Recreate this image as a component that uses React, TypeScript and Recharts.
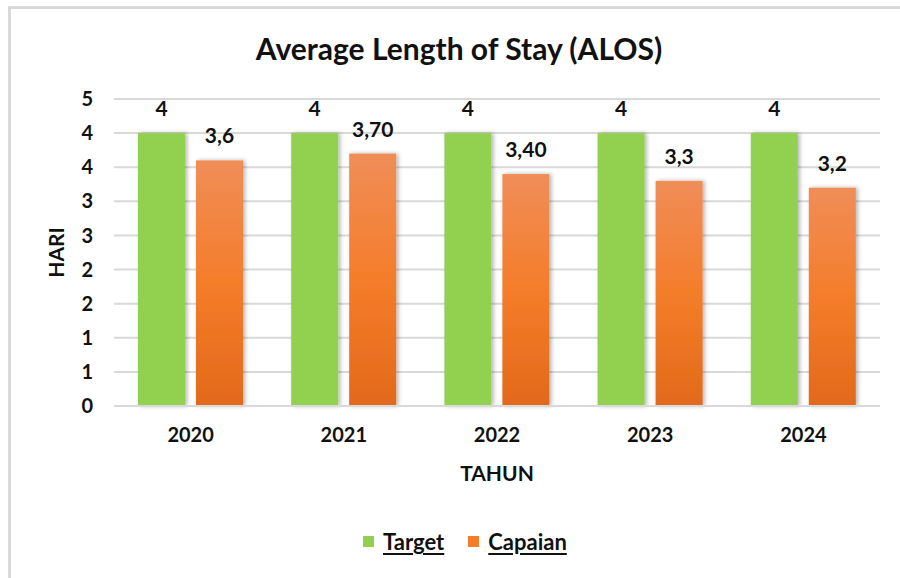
import React from "react";
import { Bar, BarChart, CartesianGrid, Label, LabelList, XAxis, YAxis } from "recharts";

const years = ["2020", "2021", "2022", "2023", "2024"];
const target = [4, 4, 4, 4, 4];
const capaian = [3.6, 3.7, 3.4, 3.3, 3.2];
const targetLabels = ["4", "4", "4", "4", "4"];
const capaianLabels = ["3,6", "3,70", "3,40", "3,3", "3,2"];
const yTicks = [0, 0.5, 1, 1.5, 2, 2.5, 3, 3.5, 4, 4.5];

const data = years.map((year, i) => ({
  year,
  target: target[i],
  capaian: capaian[i],
  targetLabel: targetLabels[i],
  capaianLabel: capaianLabels[i],
}));

const FONT = "Lato, 'Noto Sans', sans-serif";
const GREEN = "#92D050";
const GRID = "#d9d9d9";

const tickStyle = { fontSize: 20, fontWeight: 700, fill: "#111", fontFamily: FONT };
const labelStyle = { fontSize: 21, fontWeight: 700, fill: "#111", fontFamily: FONT };

// bar with soft excel-like shadow
const ShadowBar = (props: any) => {
  const { x, y, width, height, fill } = props;
  if (!height || height <= 0) return null;
  return <rect x={x} y={y} width={width} height={height} fill={fill} filter="url(#barShadow)" />;
};

function LegendItem({ color, text }: { color: string; text: string }) {
  return (
    <span style={{ display: "inline-flex", alignItems: "center", marginRight: 24 }}>
      <span style={{ width: 11, height: 11, background: color, display: "inline-block", marginRight: 9 }} />
      <span style={{ textDecoration: "underline", textUnderlineOffset: 3 }}>{text}</span>
    </span>
  );
}

export default function App(): React.JSX.Element {
  return (
    <div style={{ position: "absolute", left: 0, top: 0, width: 900, height: 578, background: "#fff", overflow: "hidden" }}>
      <div
        style={{
          position: "absolute",
          left: 8,
          top: 6,
          right: 0,
          bottom: 0,
          borderTop: `3px solid ${GRID}`,
          borderLeft: `3px solid ${GRID}`,
        }}
      />
      <div
        style={{
          position: "absolute",
          left: 0,
          top: 30,
          width: 918,
          textAlign: "center",
          fontFamily: FONT,
          fontWeight: 700,
          fontSize: 30,
          color: "#111",
        }}
      >
        Average Length of Stay (ALOS)
      </div>
      <div style={{ position: "absolute", left: 0, top: 0 }}>
        <BarChart
          width={900}
          height={578}
          data={data}
          margin={{ top: 99, right: 20, bottom: 36, left: 20 }}
          barSize={47}
          barGap={11}
        >
          <defs>
            <linearGradient id="orangeGrad" x1="0" y1="0" x2="0" y2="1">
              <stop offset="0%" stopColor="#F08D58" />
              <stop offset="50%" stopColor="#F47D2A" />
              <stop offset="100%" stopColor="#E2691A" />
            </linearGradient>
            <filter id="barShadow" x="-30%" y="-10%" width="160%" height="120%">
              <feDropShadow dx={2} dy={0} stdDeviation={2} floodColor="#000" floodOpacity={0.3} />
            </filter>
          </defs>
          <CartesianGrid stroke={GRID} strokeWidth={2} vertical={false} />
          <XAxis
            dataKey="year"
            height={136}
            tick={tickStyle}
            tickLine={false}
            axisLine={{ stroke: GRID, strokeWidth: 2 }}
            tickMargin={16}
          >
            <Label value="TAHUN" position="center" style={labelStyle} />
          </XAxis>
          <YAxis
            width={94}
            domain={[0, 4.5]}
            ticks={yTicks}
            interval={0}
            tickFormatter={(v: number) => String(Math.round(v))}
            tick={tickStyle}
            tickLine={false}
            axisLine={false}
            tickMargin={15}
          >
            <Label value="HARI" angle={-90} position="center" dx={-10} style={labelStyle} />
          </YAxis>
          <Bar dataKey="target" fill={GREEN} shape={ShadowBar} isAnimationActive={false}>
            <LabelList dataKey="targetLabel" position="top" offset={17} style={labelStyle} />
          </Bar>
          <Bar dataKey="capaian" fill="url(#orangeGrad)" shape={ShadowBar} isAnimationActive={false}>
            <LabelList dataKey="capaianLabel" position="top" offset={17} style={labelStyle} />
          </Bar>
        </BarChart>
      </div>
      <div
        style={{
          position: "absolute",
          left: 363,
          top: 528,
          fontFamily: FONT,
          fontWeight: 700,
          fontSize: 22,
          color: "#111",
          display: "flex",
          alignItems: "center",
          whiteSpace: "nowrap",
        }}
      >
        <LegendItem color={GREEN} text="Target" />
        <LegendItem color="#F47D2A" text="Capaian" />
      </div>
    </div>
  );
}
